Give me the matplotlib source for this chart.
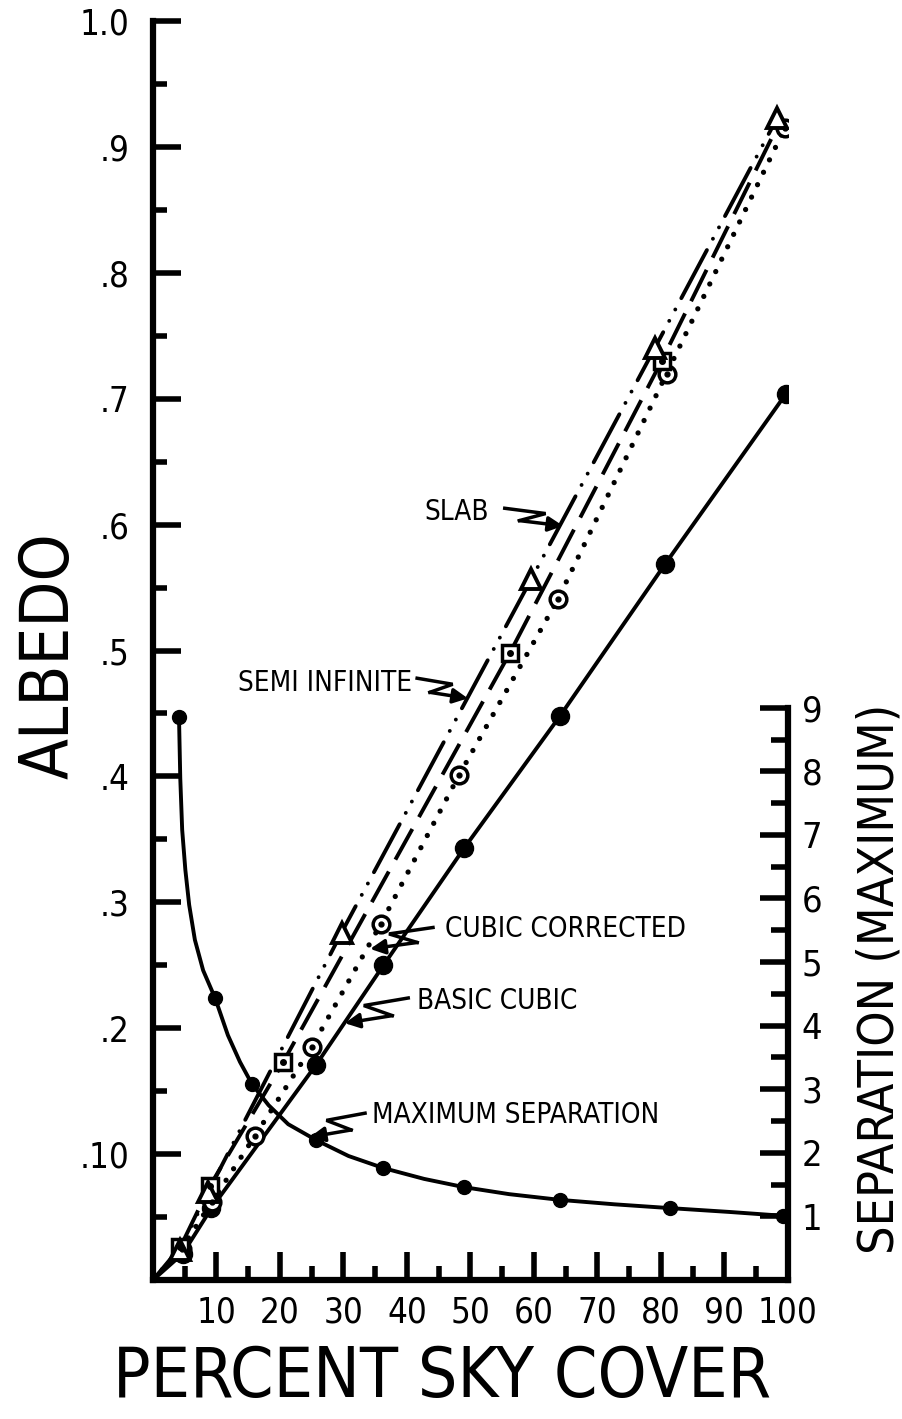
import numpy as np
import matplotlib.pyplot as plt
from matplotlib import font_manager

installed = {f.name for f in font_manager.fontManager.ttflist}
if "Liberation Sans Narrow" in installed:
    plt.rcParams["font.family"] = ["Liberation Sans Narrow", "DejaVu Sans"]
else:
    plt.rcParams["font.family"] = ["DejaVu Sans"]
    plt.rcParams["font.stretch"] = "condensed"

# albedo curves (left axis), x = percent sky cover
cubic_x = [0, 4.7, 9.2, 25.7, 36.3, 49.0, 64.1, 80.7, 99.7]
cubic_y = [0, 0.021, 0.057, 0.171, 0.250, 0.343, 0.448, 0.569, 0.704]

corr_x = [0, 4.5, 9.3, 16.0, 25.0, 35.9, 48.2, 63.8, 80.9, 99.5]
corr_y = [0, 0.025, 0.062, 0.114, 0.185, 0.283, 0.401, 0.541, 0.720, 0.915]

semi_x = [0, 4.3, 9.0, 20.5, 56.2, 80.1, 98.5]
semi_y = [0, 0.026, 0.075, 0.173, 0.498, 0.730, 0.918]

slab_x = [0, 4.3, 8.7, 29.7, 59.6, 79.0, 98.3]
slab_y = [0, 0.024, 0.070, 0.276, 0.557, 0.740, 0.923]

# maximum separation (right axis)
sep_x = [4.1, 9.8, 15.6, 25.7, 36.3, 49.0, 64.1, 81.5, 99.2]
sep_y = [8.85, 4.43, 3.08, 2.20, 1.76, 1.46, 1.26, 1.13, 1.01]
# curve as traced between the points
sep_curve_x = [4.1, 4.3, 4.6, 5.1, 5.7, 6.6, 7.9, 9.8, 11.8, 13.7, 15.6, 18.2,
               21.3, 25.7, 30.8, 36.3, 42.7, 49.0, 56.1, 64.1, 72.7, 81.5, 90.8, 99.2]
sep_curve_y = [8.85, 7.89, 7.08, 6.45, 5.90, 5.35, 4.87, 4.43, 3.85, 3.43, 3.08, 2.75,
               2.45, 2.20, 1.95, 1.76, 1.59, 1.46, 1.35, 1.26, 1.19, 1.13, 1.07, 1.01]

albedo_ticks = [0.1, 0.2, 0.3, 0.4, 0.5, 0.6, 0.7, 0.8, 0.9, 1.0]
albedo_labels = [".10", ".2", ".3", ".4", ".5", ".6", ".7", ".8", ".9", "1.0"]
cover_ticks = [10, 20, 30, 40, 50, 60, 70, 80, 90, 100]
sep_ticks = [1, 2, 3, 4, 5, 6, 7, 8, 9]

# label text, text anchor, arrow start, arrow tip, text alignment
notes = [
    ("SLAB", (42.8, 0.610), (55.4, 0.613), (64.6, 0.599), "left"),
    ("SEMI INFINITE", (40.8, 0.474), (41.6, 0.478), (49.6, 0.462), "right"),
    ("CUBIC CORRECTED", (46.0, 0.279), (44.1, 0.280), (34.2, 0.263), "left"),
    ("BASIC CUBIC", (41.6, 0.222), (40.2, 0.224), (30.2, 0.204), "left"),
    ("MAXIMUM SEPARATION", (34.5, 0.131), (33.4, 0.1325), (24.7, 0.1135), "left"),
]

fig = plt.figure(figsize=(9.03, 14.19), dpi=100)
ax = fig.add_axes([0.1694, 0.09796, 0.7032, 0.8872])
ax.set_xlim(0, 100)
ax.set_ylim(0, 1.0)

ax.plot(cubic_x, cubic_y, color="black", lw=2.8, marker="o", ms=13,
        markevery=slice(1, None), zorder=3)
ax.plot(corr_x, corr_y, color="black", lw=3.8, linestyle=(0, (0.01, 2.6)),
        dash_capstyle="round", zorder=2)
ax.plot(semi_x, semi_y, color="black", lw=2.8, linestyle=(0, (9, 3.5)), zorder=2)
ax.plot(slab_x, slab_y, color="black", lw=2.8, dash_capstyle="round",
        linestyle=(0, (14, 3.3, 0.01, 3.3, 0.01, 3.3)), zorder=2)

# markers
ax.plot(corr_x[1:], corr_y[1:], "o", ms=12, mfc="white", mec="black", mew=2.5, zorder=4)
ax.plot(corr_x[1:], corr_y[1:], "o", ms=3.5, color="black", zorder=5)
ax.plot(semi_x[1:-1], semi_y[1:-1], "s", ms=12, mfc="white", mec="black", mew=2.5, zorder=4)
ax.plot(semi_x[1:-1], semi_y[1:-1], "o", ms=4, color="black", zorder=5)
ax.plot(slab_x[1:], slab_y[1:], "^", ms=14, mfc="white", mec="black", mew=2.8, zorder=4)

for side in ["top", "right"]:
    ax.spines[side].set_visible(False)
for side in ["left", "bottom"]:
    ax.spines[side].set_linewidth(4.5)

ax.set_yticks(albedo_ticks)
ax.set_yticklabels(albedo_labels)
ax.set_yticks(np.arange(0.05, 1.0, 0.1), minor=True)
ax.set_xticks(cover_ticks)
ax.set_xticks(np.arange(5, 100, 10), minor=True)
ax.tick_params(which="major", direction="in", length=20, width=4, labelsize=25)
ax.tick_params(axis="y", which="major", pad=17)
ax.tick_params(axis="x", which="major", pad=11)
ax.tick_params(which="minor", direction="in", length=10, width=4)

ax2 = ax.twinx()
ax2.set_ylim(0, 19.8)
ax2.plot(sep_curve_x, sep_curve_y, color="black", lw=2.8, zorder=3)
ax2.plot(sep_x, sep_y, "o", ms=10, color="black", zorder=4)
for side in ["top", "left", "bottom"]:
    ax2.spines[side].set_visible(False)
ax2.spines["right"].set_linewidth(4.5)
ax2.spines["right"].set_bounds(0, 9)
ax2.set_yticks(sep_ticks)
ax2.set_yticks(np.arange(1.5, 9, 1), minor=True)
ax2.tick_params(which="major", direction="in", length=20, width=4, labelsize=26, pad=10)
ax2.tick_params(which="minor", direction="in", length=12, width=4)


def zigzag(a, start, end):
    s = a.transData.transform(start)
    e = a.transData.transform(end)
    d = e - s
    m1 = s + d * np.array([0.7, 0.3])
    m2 = s + d * np.array([0.25, 0.7])
    pts = a.transData.inverted().transform([s, m1, m2])
    a.plot(pts[:, 0], pts[:, 1], color="black", lw=2.5, solid_joinstyle="miter",
           clip_on=False, zorder=6)
    a.annotate("", xy=end, xytext=pts[2],
               arrowprops=dict(arrowstyle="-|>", color="black", lw=2.5,
                               mutation_scale=22, shrinkA=0, shrinkB=0), zorder=6)


for text, pos, start, tip, ha in notes:
    ax2.text(pos[0], pos[1] * 19.8, text, fontsize=20, ha=ha, va="center", zorder=6)
    zigzag(ax2, (start[0], start[1] * 19.8), (tip[0], tip[1] * 19.8))

fig.text(0.055, 0.538, "ALBEDO", rotation=90, fontsize=48, ha="center", va="center")
fig.text(0.49, 0.029, "PERCENT SKY COVER", fontsize=50, ha="center", va="center")
fig.text(0.974, 0.31, "SEPARATION (MAXIMUM)", rotation=90, fontsize=36,
         ha="center", va="center")

fig.savefig("out.png", dpi=100)
